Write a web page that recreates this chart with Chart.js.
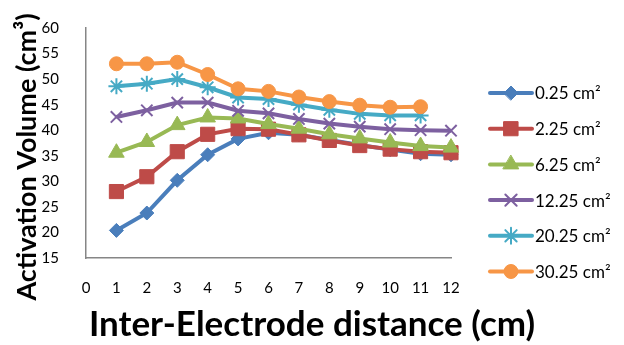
<!DOCTYPE html>
<html>
<head>
<meta charset="utf-8">
<script src="https://cdn.jsdelivr.net/npm/chart.js@4"></script>
<style>
  html, body { margin: 0; padding: 0; background: #fff; }
  #wrap { width: 624px; height: 345px; }
</style>
</head>
<body>
<div id="wrap"><canvas id="volumeChart" width="624" height="345"></canvas></div>
<script>
// inter-electrode distance (cm)
const distances = [1, 2, 3, 4, 5, 6, 7, 8, 9, 10, 11, 12];

// electrode area labels
const areaLabels = ['0.25 cm²', '2.25 cm²', '6.25 cm²', '12.25 cm²', '20.25 cm²', '30.25 cm²'];

// activation volume (cm³) per electrode area
const vol_025 = [20.4, 23.8, 30.2, 35.2, 38.3, 39.5, 39.1, 38.1, 37.1, 36.2, 35.4, 35.2];
const vol_225 = [28.0, 30.9, 35.8, 39.2, 40.3, 40.2, 39.1, 38.0, 37.0, 36.3, 35.8, 35.6];
const vol_625 = [35.6, 37.7, 41.0, 42.5, 42.3, 41.2, 40.3, 39.2, 38.4, 37.6, 36.9, 36.6];
const vol_1225 = [42.6, 43.9, 45.4, 45.4, 43.8, 43.3, 42.2, 41.3, 40.7, 40.2, 40.0, 39.9];
const vol_2025 = [48.6, 49.1, 50.0, 48.4, 46.4, 46.1, 45.0, 44.0, 43.2, 42.9, 42.9];
const vol_3025 = [53.0, 53.0, 53.3, 50.9, 48.1, 47.6, 46.5, 45.6, 44.9, 44.5, 44.6];

const yTicks = { min: 15, max: 60, step: 5 };
const xTicks = { min: 0, max: 12, step: 1 };

const seriesValues = [vol_025, vol_225, vol_625, vol_1225, vol_2025, vol_3025];
const colors = ['#4A7EBB', '#BE4B48', '#98B954', '#7D60A0', '#46AAC5', '#F79646'];
const markers = ['rectRot', 'rect', 'triangle', 'crossRot', 'star', 'circle'];
const markerSize = [7, 10, 9, 8, 8, 7];

const FONT = 'Lato, "Open Sans", sans-serif';
const xTitle = 'Inter-Electrode distance (cm)';
const yTitle = 'Activation Volume (cm³)';

const datasets = seriesValues.map((vals, i) => ({
    label: areaLabels[i],
    data: vals.map((v, j) => ({ x: distances[j], y: v })),
    borderColor: colors[i],
    backgroundColor: colors[i],
    pointBackgroundColor: colors[i],
    pointBorderColor: colors[i],
    pointStyle: markers[i],
    pointRadius: markerSize[i],
    pointBorderWidth: (markers[i] === 'crossRot' || markers[i] === 'star') ? 2 : 1,
    borderWidth: 4,
    tension: 0,
    clip: false,
    order: 6 - i   // later series drawn on top, like the original
}));

// legend on the right (line with marker, then label) + both axis titles
const sideLegend = {
    id: 'sideLegend',
    afterDraw(chart) {
        const ctx = chart.ctx;
        const area = chart.chartArea;
        const x0 = area.right + 39;
        const y0 = 93;
        const gap = 35.7;
        ctx.save();
        chart.data.datasets.forEach((ds, i) => {
            const y = y0 + i * gap;
            ctx.strokeStyle = ds.borderColor;
            ctx.lineWidth = 4;
            ctx.lineCap = 'round';
            ctx.beginPath();
            ctx.moveTo(x0, y);
            ctx.lineTo(x0 + 42, y);
            ctx.stroke();
            ctx.fillStyle = ds.pointBackgroundColor;
            ctx.strokeStyle = ds.pointBorderColor;
            ctx.lineWidth = ds.pointBorderWidth;
            Chart.helpers.drawPoint(ctx, {
                pointStyle: ds.pointStyle,
                radius: ds.pointRadius,
                borderWidth: ds.pointBorderWidth,
                rotation: 0
            }, x0 + 21, y);
            ctx.fillStyle = '#000';
            ctx.font = '17px ' + FONT;
            ctx.textBaseline = 'middle';
            ctx.textAlign = 'left';
            ctx.fillText(ds.label, x0 + 45, y + 1);
        });

        // x title sits centred on the whole picture in the original
        ctx.font = 'bold 35px ' + FONT;
        ctx.textAlign = 'center';
        ctx.textBaseline = 'middle';
        ctx.fillText(xTitle, chart.width / 2, 325);

        // y title, centred a bit below the plot middle
        ctx.translate(27, 157);
        ctx.rotate(-Math.PI / 2);
        ctx.font = 'bold 27px ' + FONT;
        ctx.fillText(yTitle, 0, 0);
        ctx.restore();
    }
};

const chart = new Chart(document.getElementById('volumeChart').getContext('2d'), {
    type: 'line',
    data: { datasets: datasets },
    options: {
        responsive: false,
        animation: false,
        layout: {
            padding: { left: 0, right: 173, top: 15, bottom: 0 }
        },
        plugins: {
            legend: { display: false },
            tooltip: { enabled: false }
        },
        scales: {
            x: {
                type: 'linear',
                min: xTicks.min,
                max: xTicks.max,
                grid: { display: false },
                border: { display: true, color: '#868686', width: 1.5 },
                ticks: {
                    stepSize: xTicks.step,
                    color: '#000',
                    padding: 13,
                    font: { family: FONT, size: 15 }
                },
                afterFit(scale) { scale.height = 87; }
            },
            y: {
                min: yTicks.min,
                max: yTicks.max,
                grid: { display: false },
                border: { display: true, color: '#868686', width: 1.5 },
                ticks: {
                    stepSize: yTicks.step,
                    color: '#000',
                    padding: 19,
                    font: { family: FONT, size: 15 }
                },
                afterFit(scale) { scale.width = 86; }
            }
        }
    },
    plugins: [sideLegend]
});
</script>
</body>
</html>
